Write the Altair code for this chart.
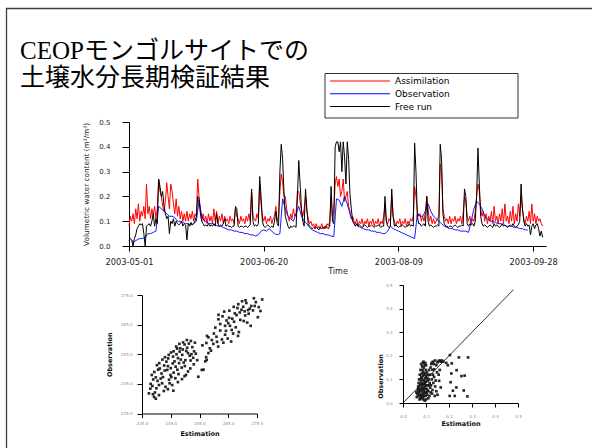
import altair as alt
import pandas as pd

# ---------------- data ----------------
title_lines = ["CEOPモンゴルサイトでの", "土壌水分長期検証結果"]
series_names = ["Assimilation", "Observation", "Free run"]
series_colors = ["#ff0000", "#0000ff", "#000000"]
ts_start = "2003-05-01"
ts_tick_dates = [(2003, 5, 1), (2003, 6, 20), (2003, 8, 9), (2003, 9, 28)]
ts_y_ticks = [0.0, 0.1, 0.2, 0.3, 0.4, 0.5]

# 12-hourly values from 2003-05-01 00:00
assim = [
    0.08, 0.12, 0.10, 0.13, 0.09, 0.15, 0.11, 0.17, 0.10, 0.14,
    0.12, 0.16, 0.11, 0.25, 0.13, 0.16, 0.11, 0.15, 0.12, 0.16,
    0.11, 0.15, 0.27, 0.22, 0.20, 0.16, 0.14, 0.18, 0.255, 0.20,
    0.15, 0.25, 0.22, 0.17, 0.13, 0.19, 0.12, 0.16, 0.11, 0.14,
    0.10, 0.13, 0.10, 0.14, 0.10, 0.13, 0.11, 0.14, 0.10, 0.13,
    0.12, 0.27, 0.20, 0.14, 0.10, 0.13, 0.10, 0.12, 0.09, 0.13,
    0.10, 0.12, 0.09, 0.15, 0.10, 0.14, 0.09, 0.12, 0.10, 0.13,
    0.09, 0.12, 0.10, 0.11, 0.09, 0.12, 0.10, 0.11, 0.09, 0.15,
    0.12, 0.11, 0.09, 0.12, 0.10, 0.11, 0.09, 0.12, 0.10, 0.13,
    0.10, 0.22, 0.12, 0.11, 0.10, 0.13, 0.11, 0.25, 0.17, 0.12,
    0.10, 0.12, 0.09, 0.11, 0.10, 0.12, 0.09, 0.11, 0.12, 0.16,
    0.10, 0.12, 0.22, 0.29, 0.26, 0.20, 0.20, 0.15, 0.12, 0.10,
    0.13, 0.11, 0.15, 0.12, 0.13, 0.22, 0.22, 0.18, 0.14, 0.12,
    0.15, 0.20, 0.14, 0.11, 0.09, 0.10, 0.08, 0.09, 0.07, 0.09,
    0.07, 0.08, 0.07, 0.09, 0.07, 0.08, 0.07, 0.09, 0.08, 0.10,
    0.20, 0.12, 0.14, 0.25, 0.28, 0.24, 0.27, 0.20, 0.22, 0.27,
    0.18, 0.20, 0.22, 0.16, 0.14, 0.11, 0.12, 0.10, 0.09, 0.11,
    0.08, 0.10, 0.09, 0.11, 0.08, 0.10, 0.09, 0.11, 0.08, 0.10,
    0.09, 0.11, 0.08, 0.10, 0.09, 0.11, 0.08, 0.10, 0.09, 0.12,
    0.17, 0.10, 0.09, 0.11, 0.10, 0.20, 0.12, 0.10, 0.08, 0.10,
    0.09, 0.11, 0.08, 0.10, 0.09, 0.11, 0.08, 0.10, 0.09, 0.11,
    0.10, 0.12, 0.24, 0.20, 0.14, 0.12, 0.13, 0.10, 0.12, 0.10,
    0.14, 0.20, 0.15, 0.10, 0.12, 0.09, 0.11, 0.09, 0.10, 0.11,
    0.12, 0.33, 0.30, 0.15, 0.12, 0.10, 0.11, 0.09, 0.12, 0.09,
    0.11, 0.10, 0.12, 0.09, 0.11, 0.10, 0.12, 0.09, 0.13, 0.20,
    0.18, 0.12, 0.10, 0.12, 0.09, 0.11, 0.10, 0.14, 0.20, 0.25,
    0.22, 0.15, 0.12, 0.14, 0.10, 0.13, 0.09, 0.12, 0.10, 0.14,
    0.09, 0.16, 0.10, 0.12, 0.09, 0.13, 0.10, 0.15, 0.09, 0.17,
    0.10, 0.12, 0.09, 0.14, 0.10, 0.16, 0.09, 0.13, 0.10, 0.17,
    0.12, 0.20, 0.15, 0.11, 0.09, 0.12, 0.10, 0.14, 0.09, 0.17,
    0.10, 0.13, 0.09, 0.12, 0.10, 0.11, 0.09, 0.08,
]

# 12-hourly values from 2003-05-01 00:00
free_run = [
    0.02, 0.03, 0.025, 0.0, 0.03, 0.045, 0.07, 0.08, 0.09, 0.085,
    0.09, 0.05, 0.0, 0.08, 0.085, 0.09, 0.08, 0.10, 0.13, 0.08,
    0.11, 0.09, 0.27, 0.24, 0.20, 0.22, 0.16, 0.13, 0.11, 0.12,
    0.05, 0.10, 0.09, 0.11, 0.08, 0.10, 0.09, 0.085, 0.09, 0.10,
    0.08, 0.09, 0.085, 0.025, 0.09, 0.08, 0.095, 0.085, 0.09, 0.10,
    0.12, 0.20, 0.19, 0.13, 0.10, 0.09, 0.08, 0.085, 0.08, 0.09,
    0.08, 0.085, 0.08, 0.09, 0.08, 0.13, 0.09, 0.08, 0.085, 0.08,
    0.09, 0.11, 0.08, 0.085, 0.08, 0.08, 0.075, 0.08, 0.08, 0.16,
    0.15, 0.08, 0.075, 0.08, 0.08, 0.075, 0.08, 0.08, 0.075, 0.08,
    0.085, 0.23, 0.10, 0.08, 0.085, 0.08, 0.09, 0.28, 0.20, 0.10,
    0.08, 0.075, 0.08, 0.085, 0.08, 0.075, 0.08, 0.075, 0.10, 0.14,
    0.09, 0.08, 0.30, 0.41, 0.35, 0.22, 0.12, 0.10, 0.08, 0.07,
    0.08, 0.075, 0.08, 0.08, 0.075, 0.20, 0.345, 0.25, 0.15, 0.10,
    0.08, 0.23, 0.15, 0.09, 0.08, 0.075, 0.07, 0.075, 0.07, 0.075,
    0.07, 0.065, 0.075, 0.07, 0.075, 0.07, 0.08, 0.075, 0.07, 0.08,
    0.24, 0.10, 0.09, 0.40, 0.42, 0.42, 0.38, 0.42, 0.30, 0.42,
    0.36, 0.25, 0.42, 0.35, 0.21, 0.15, 0.10, 0.09, 0.08, 0.09,
    0.08, 0.085, 0.08, 0.075, 0.08, 0.085, 0.08, 0.075, 0.08, 0.08,
    0.085, 0.08, 0.075, 0.08, 0.08, 0.085, 0.08, 0.075, 0.08, 0.08,
    0.20, 0.10, 0.08, 0.075, 0.08, 0.23, 0.12, 0.08, 0.085, 0.08,
    0.075, 0.08, 0.08, 0.085, 0.08, 0.075, 0.08, 0.08, 0.09, 0.08,
    0.085, 0.08, 0.415, 0.30, 0.12, 0.09, 0.09, 0.08, 0.085, 0.09,
    0.08, 0.20, 0.10, 0.08, 0.085, 0.08, 0.075, 0.08, 0.08, 0.085,
    0.08, 0.41, 0.35, 0.13, 0.09, 0.08, 0.08, 0.075, 0.08, 0.08,
    0.075, 0.08, 0.085, 0.08, 0.075, 0.08, 0.08, 0.085, 0.08, 0.23,
    0.20, 0.09, 0.08, 0.09, 0.085, 0.09, 0.08, 0.10, 0.20, 0.395,
    0.25, 0.12, 0.09, 0.08, 0.085, 0.08, 0.075, 0.08, 0.085, 0.08,
    0.075, 0.09, 0.08, 0.085, 0.08, 0.075, 0.08, 0.09, 0.08, 0.085,
    0.08, 0.075, 0.08, 0.085, 0.08, 0.09, 0.08, 0.075, 0.08, 0.085,
    0.10, 0.25, 0.15, 0.10, 0.08, 0.09, 0.08, 0.085, 0.045, 0.08,
    0.09, 0.07, 0.085, 0.09, 0.07, 0.04, 0.06, 0.035,
]

# daily values from 2003-05-02
observation = [
    0.02, 0.018, 0.025, 0.03, 0.03, 0.035, 0.05, 0.05, 0.055, 0.06,
    0.16, 0.15, 0.14, 0.13, 0.12, 0.12, 0.115, 0.10, 0.10, 0.095,
    0.09, 0.09, 0.085, 0.09, 0.10, 0.185, 0.12, 0.10, 0.095, 0.09,
    0.09, 0.085, 0.08, 0.08, 0.075, 0.07, 0.065, 0.065, 0.06, 0.06,
    0.055, 0.055, 0.05, 0.05, 0.045, 0.045, 0.04, 0.045, 0.06, 0.065,
    0.06, 0.07, 0.06, 0.05, 0.045, 0.05, 0.19, 0.15, 0.12, 0.11,
    0.10, 0.13, 0.16, 0.12, 0.10, 0.09, 0.075, 0.065, 0.06, 0.055,
    0.05, 0.05, 0.045, 0.045, 0.04, 0.038, 0.19, 0.185, 0.16, 0.20,
    0.17, 0.13, 0.10, 0.09, 0.08, 0.075, 0.07, 0.065, 0.065, 0.06,
    0.06, 0.055, 0.055, 0.05, 0.05, 0.06, 0.08, 0.07, 0.065, 0.06,
    0.055, 0.05, 0.045, 0.04, 0.035, 0.03, 0.13, 0.12, 0.12, 0.14,
    0.17, 0.14, 0.12, 0.11, 0.10, 0.09, 0.08, 0.075, 0.07, 0.07,
    0.065, 0.065, 0.06, 0.06, 0.06, 0.055, 0.10, 0.15, 0.18, 0.17,
    0.15, 0.12, 0.11, 0.10, 0.10, 0.095, 0.09, 0.09, 0.085, 0.08,
    0.08, 0.08, 0.075, 0.075, 0.07, 0.07, 0.065, 0.065,
]

sc1_ticks = [235, 245, 255, 265, 275]
sc1_points = [
    (237.4, 241.8), (239.2, 240.6), (239.8, 240.0), (238.0, 245.0), (238.6, 244.3), (240.0, 243.5), (239.8, 247.2), (240.4, 246.0), (241.8, 248.5), (242.9, 249.5),
    (241.2, 250.2), (244.0, 251.0), (242.3, 247.3), (245.2, 247.3), (244.6, 245.2), (245.7, 251.9), (246.3, 252.6), (247.5, 253.7), (246.9, 257.6), (248.1, 255.9),
    (249.2, 256.6), (249.8, 258.3), (250.4, 256.1), (251.0, 255.4), (251.6, 254.5), (252.2, 255.0), (249.5, 252.2), (251.0, 249.2), (249.8, 247.6), (243.5, 252.5),
    (244.1, 253.6), (245.0, 250.3), (245.8, 254.2), (246.7, 250.8), (247.3, 249.8), (247.9, 252.0), (248.5, 253.2), (249.0, 254.8), (250.1, 253.0), (250.7, 257.2),
    (251.3, 258.6), (252.5, 257.4), (253.1, 256.0), (252.8, 253.8), (253.4, 258.9), (248.3, 257.0), (247.0, 255.0), (246.0, 248.8), (244.9, 248.0), (243.8, 249.7),
    (242.7, 251.2), (241.5, 246.8), (240.9, 244.6), (239.5, 242.1), (238.9, 246.5), (240.6, 249.8), (242.0, 245.2), (243.2, 244.0), (244.4, 246.4), (245.5, 244.6),
    (246.6, 246.9), (247.7, 248.3), (248.8, 250.5), (249.9, 251.0), (251.9, 252.9), (253.7, 255.2), (252.0, 259.5), (250.6, 259.8), (249.3, 259.0), (248.0, 258.5),
    (247.2, 256.9), (246.0, 256.0), (245.1, 255.6), (244.3, 254.8), (243.0, 254.0), (242.1, 253.2), (241.0, 252.0), (240.2, 251.3), (239.3, 249.0), (238.4, 248.0),
    (237.9, 243.4), (238.8, 241.5), (240.9, 241.2), (242.6, 242.6), (244.0, 243.2), (245.9, 242.7), (247.5, 245.6), (248.9, 246.6), (250.3, 248.0), (251.8, 250.2),
    (253.0, 251.6), (254.2, 253.0), (254.6, 247.4), (255.8, 249.7), (257.5, 253.1),
    (256.4, 249.8), (257.0, 252.6), (258.1, 255.4), (258.6, 257.0), (257.6, 261.2), (258.1, 260.7), (259.3, 259.8), (260.5, 264.0), (261.6, 266.8), (261.6, 268.3),
    (261.1, 259.2), (262.8, 260.0), (263.9, 261.6), (263.9, 264.6), (265.0, 265.5), (264.4, 266.4), (265.6, 264.6), (266.2, 263.2), (266.7, 262.0), (265.3, 267.3),
    (267.9, 268.2), (268.4, 261.2), (268.7, 262.5), (267.3, 268.8), (269.0, 269.1), (269.6, 270.0), (270.2, 271.0), (270.7, 269.5), (271.3, 272.3), (271.9, 269.9),
    (272.5, 270.4), (273.0, 271.3), (274.2, 271.3), (275.3, 267.5), (276.8, 273.5), (272.8, 264.6), (271.6, 265.7), (270.4, 266.2), (266.4, 267.0), (263.0, 267.8),
    (262.2, 263.0), (260.0, 262.0), (259.8, 258.5), (261.5, 257.6), (263.3, 258.9), (264.8, 260.3), (266.0, 259.3), (267.6, 264.1), (269.2, 266.6), (270.9, 268.1),
    (272.1, 268.7), (273.6, 269.8), (274.6, 272.6), (268.2, 270.6), (266.9, 271.0), (265.4, 269.7), (263.6, 269.4), (262.2, 265.2), (260.9, 260.9), (259.0, 256.2),
    (257.3, 254.0), (256.0, 258.0), (257.4, 258.8), (271.0, 273.2), (269.8, 272.9), (268.5, 271.9), (267.0, 266.0), (264.2, 262.9), (273.9, 273.9), (275.6, 270.9),
    (276.2, 269.6),
]

sc2_ticks = [0.0, 0.1, 0.2, 0.3, 0.4, 0.5]
sc2_points = [
    (0.065, 0.030), (0.070, 0.045), (0.072, 0.060), (0.068, 0.050), (0.075, 0.020), (0.078, 0.035), (0.080, 0.050), (0.082, 0.065), (0.085, 0.040), (0.088, 0.080),
    (0.090, 0.055), (0.092, 0.030), (0.095, 0.070), (0.098, 0.045), (0.100, 0.090), (0.102, 0.060), (0.105, 0.035), (0.108, 0.075), (0.110, 0.050), (0.112, 0.100),
    (0.075, 0.080), (0.078, 0.095), (0.080, 0.110), (0.082, 0.125), (0.085, 0.140), (0.088, 0.130), (0.090, 0.150), (0.092, 0.120), (0.094, 0.160), (0.096, 0.105),
    (0.083, 0.155), (0.086, 0.170), (0.089, 0.175), (0.079, 0.165), (0.076, 0.140), (0.073, 0.120), (0.070, 0.100), (0.068, 0.085), (0.066, 0.070), (0.064, 0.055),
    (0.062, 0.040), (0.060, 0.025), (0.058, 0.045), (0.074, 0.075), (0.077, 0.060), (0.081, 0.085), (0.084, 0.100), (0.087, 0.115), (0.091, 0.095), (0.093, 0.080),
    (0.097, 0.125), (0.099, 0.140), (0.101, 0.115), (0.104, 0.130), (0.107, 0.095), (0.109, 0.120), (0.113, 0.140), (0.116, 0.085), (0.118, 0.065), (0.120, 0.045),
    (0.115, 0.030), (0.110, 0.020), (0.100, 0.015), (0.095, 0.010), (0.088, 0.015), (0.080, 0.020), (0.072, 0.015), (0.087, 0.025), (0.093, 0.045), (0.096, 0.060),
    (0.083, 0.075), (0.079, 0.105), (0.090, 0.065), (0.086, 0.055), (0.095, 0.085), (0.101, 0.075), (0.106, 0.055), (0.103, 0.045), (0.071, 0.035), (0.067, 0.065),
    (0.076, 0.025), (0.084, 0.030), (0.091, 0.040), (0.098, 0.030), (0.112, 0.075), (0.105, 0.105), (0.100, 0.160), (0.097, 0.170), (0.120, 0.150), (0.123, 0.165),
    (0.125, 0.170), (0.130, 0.175), (0.135, 0.165), (0.140, 0.180), (0.145, 0.160), (0.150, 0.172), (0.155, 0.178), (0.160, 0.180), (0.165, 0.175), (0.170, 0.180),
    (0.175, 0.175), (0.128, 0.140), (0.135, 0.143), (0.130, 0.120), (0.125, 0.100), (0.132, 0.085), (0.140, 0.070), (0.145, 0.050), (0.150, 0.035), (0.138, 0.030),
    (0.128, 0.055), (0.122, 0.075), (0.135, 0.110), (0.142, 0.095), (0.157, 0.094), (0.164, 0.066), (0.155, 0.120), (0.160, 0.140), (0.118, 0.120), (0.126, 0.040),
    (0.148, 0.130), (0.204, 0.203), (0.212, 0.168), (0.243, 0.193), (0.283, 0.193), (0.233, 0.139), (0.207, 0.088), (0.217, 0.052), (0.232, 0.066), (0.203, 0.030),
    (0.225, 0.030), (0.254, 0.114), (0.268, 0.116), (0.264, 0.053), (0.280, 0.028), (0.210, 0.125), (0.195, 0.160), (0.188, 0.170),
]
diag_ends = [0.0, 0.48]

# ---------------- tables ----------------
t0 = pd.Timestamp(ts_start)


def stamp(hours):
    return (t0 + pd.Timedelta(hours=hours)).strftime("%Y-%m-%dT%H:%M:%S")


df_assim = pd.DataFrame({"t": [stamp(12 * i) for i in range(len(assim))], "v": assim})
df_free = pd.DataFrame({"t": [stamp(12 * i) for i in range(len(free_run))], "v": free_run})
df_obs = pd.DataFrame({"t": [stamp(24 * (i + 1)) for i in range(len(observation))], "v": observation})
df_leg = pd.DataFrame({"series": series_names})
df_sc1 = pd.DataFrame(sc1_points, columns=["est", "obs"])
df_sc2 = pd.DataFrame(sc2_points, columns=["est", "obs"])
df_diag = pd.DataFrame({"est": diag_ends, "obs": diag_ends})
one = pd.DataFrame({"k": [0]})

SANS = "DejaVu Sans"

# ---------------- decorations ----------------
border = alt.Chart(one).mark_rect(fill="transparent", stroke="#3c3c3c", strokeWidth=1.3).encode(
    x=alt.value(6.5), x2=alt.value(640), y=alt.value(8.5), y2=alt.value(480)
)

title = alt.Chart(one).mark_text(
    text=title_lines, align="left", baseline="alphabetic",
    font="'Liberation Serif', 'Noto Sans CJK JP'", fontSize=25, lineHeight=27, color="#000000"
).encode(x=alt.value(20), y=alt.value(58.5))

legend_box = alt.Chart(one).mark_rect(fill="white", stroke="#333333", strokeWidth=1).encode(
    x=alt.value(325), x2=alt.value(518), y=alt.value(73.5), y2=alt.value(118)
)
leg_y = alt.Y("series:N", scale=alt.Scale(type="point", domain=series_names, range=[81, 106.5], padding=0), axis=None)
leg_color = alt.Color("series:N", scale=alt.Scale(domain=series_names, range=series_colors), legend=None)
legend_lines = alt.Chart(df_leg).mark_rule(strokeWidth=1).encode(
    x=alt.value(330), x2=alt.value(390), y=leg_y, color=leg_color
)
legend_text = alt.Chart(df_leg).mark_text(align="left", baseline="middle", font=SANS, fontSize=9, color="#000").encode(
    x=alt.value(395), y=leg_y, text="series:N"
)

# ---------------- time series ----------------
X0 = alt.DateTime(year=2003, month=5, date=1)
X1 = alt.DateTime(year=2003, month=10, date=2, hours=18)


def ts_x(axis):
    return alt.X("t:T", scale=alt.Scale(domain=[X0, X1], range=[129, 546], nice=False), axis=axis)


def ts_y(axis):
    return alt.Y("v:Q", scale=alt.Scale(domain=[0, 0.5], range=[246, 122], nice=False, zero=False), axis=axis)


ts_xaxis = alt.Axis(
    orient="bottom", offset=-202, values=[alt.DateTime(year=y, month=m, date=d) for (y, m, d) in ts_tick_dates],
    format="%Y-%m-%d", title="Time", grid=False, labelFlush=False, labelOverlap=False,
    labelFont=SANS, labelFontSize=8.3, labelColor="#222", labelPadding=6, tickSize=5, tickColor="#000",
    domainColor="#000", titleFont=SANS, titleFontSize=8, titleFontWeight="normal", titlePadding=2, titleColor="#222"
)
ts_yaxis = alt.Axis(
    orient="left", offset=-129, values=ts_y_ticks, format=".1f", title="Volumetric water content (m³/m³)",
    grid=False, labelFlush=False, labelOverlap=False, labelFont=SANS, labelFontSize=7, labelColor="#222",
    labelPadding=12, tickSize=7, tickColor="#000", domainColor="#000", titleFont=SANS, titleFontSize=7.3,
    titleFontWeight="normal", titlePadding=8, titleColor="#222"
)

ts_red = alt.Chart(df_assim).mark_line(color=series_colors[0], strokeWidth=1).encode(x=ts_x(ts_xaxis), y=ts_y(ts_yaxis))
ts_blue = alt.Chart(df_obs).mark_line(color=series_colors[1], strokeWidth=0.9).encode(x=ts_x(None), y=ts_y(None))
ts_black = alt.Chart(df_free).mark_line(color=series_colors[2], strokeWidth=1).encode(x=ts_x(None), y=ts_y(None))

# ---------------- scatter 1 ----------------
sc_common = dict(grid=False, labelFlush=False, labelOverlap=False, labelFont=SANS, labelFontSize=4,
                 labelColor="#8a8a8a", tickColor="#000", domainColor="#000", titleFont=SANS,
                 titleFontSize=6.5, titleFontWeight="bold", titleColor="#111")

sc1 = alt.Chart(df_sc1).mark_point(shape="square", size=7, filled=True, color="#1a1a1a", opacity=0.95).encode(
    x=alt.X("est:Q", scale=alt.Scale(domain=[235, 275], range=[142, 257], nice=False, zero=False),
            axis=alt.Axis(orient="bottom", offset=-34.5, values=sc1_ticks, format=".1f", title="Estimation",
                          tickSize=4, labelPadding=4, titlePadding=5, **sc_common)),
    y=alt.Y("obs:Q", scale=alt.Scale(domain=[235, 275], range=[413.5, 295], nice=False, zero=False),
            axis=alt.Axis(orient="left", offset=-142, values=sc1_ticks, format=".1f", title="Observation",
                          tickSize=5, labelPadding=5, titlePadding=8, **sc_common)),
)

# ---------------- scatter 2 ----------------
sc2_x = alt.Scale(domain=[0, 0.5], range=[403, 518], nice=False, zero=False)
sc2_y = alt.Scale(domain=[0, 0.5], range=[403, 285], nice=False, zero=False)

sc2 = alt.Chart(df_sc2).mark_point(shape="square", size=7, filled=True, color="#1a1a1a", opacity=0.95).encode(
    x=alt.X("est:Q", scale=sc2_x,
            axis=alt.Axis(orient="bottom", offset=-45, values=sc2_ticks, format=".1f", title="Estimation",
                          tickSize=4, labelPadding=7, titlePadding=2, **sc_common)),
    y=alt.Y("obs:Q", scale=sc2_y,
            axis=alt.Axis(orient="left", offset=-403, values=sc2_ticks, format=".1f", title="Observation",
                          tickSize=4, labelPadding=7, titlePadding=2.5, titleY=376, **sc_common)),
)
diag = alt.Chart(df_diag).mark_line(color="#000", strokeWidth=0.8).encode(
    x=alt.X("est:Q", scale=sc2_x, axis=None), y=alt.Y("obs:Q", scale=sc2_y, axis=None)
)

chart = alt.layer(
    border, title, legend_box, legend_lines, legend_text,
    ts_red, ts_blue, ts_black, sc1, diag, sc2
).resolve_scale(x="independent", y="independent").resolve_axis(x="independent", y="independent").properties(
    width=592, height=448, autosize=alt.AutoSizeParams(type="none"),
    padding={"left": 0, "top": 0, "right": 0, "bottom": 0}, background="white"
).configure_view(stroke=None)

chart.save("out.html", embed_options={"renderer": "svg", "actions": False})
